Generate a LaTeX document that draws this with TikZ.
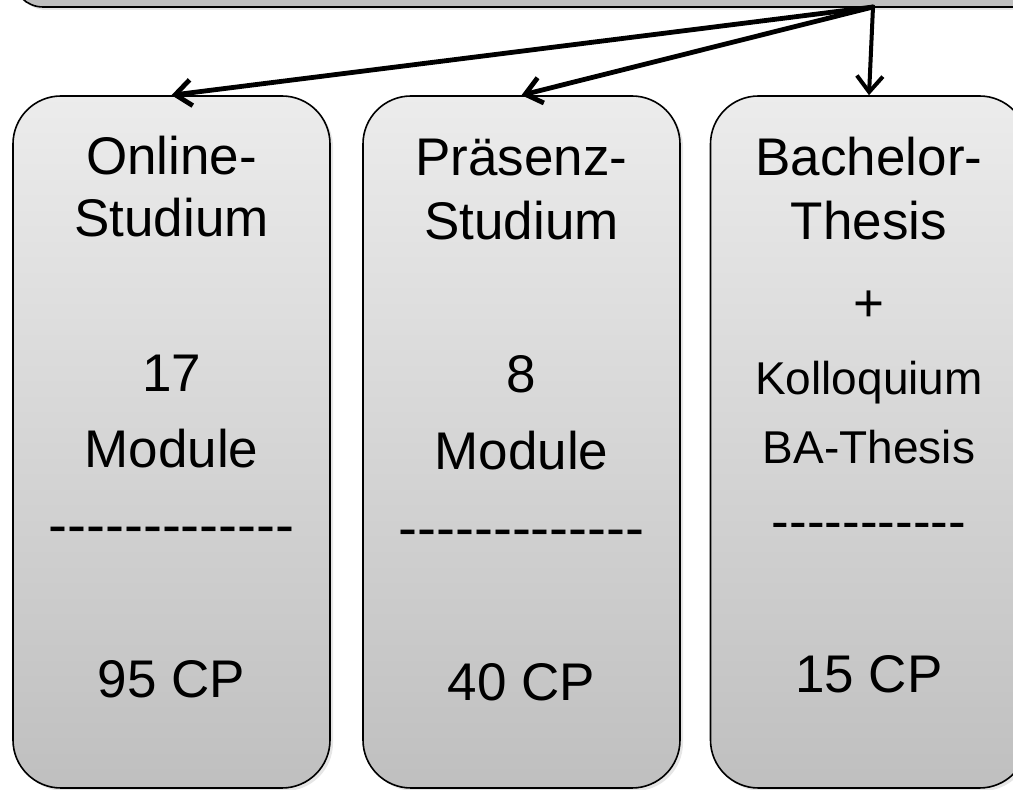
\documentclass[tikz,border=0pt]{standalone}
\usepackage{fontspec}
\setmainfont{Liberation Sans}[Ligatures=TeXOff]
\usetikzlibrary{arrows.meta,shadows}

\tikzset{
  modbox/.style={draw, line width=1.6pt, rounded corners=48pt,
    minimum width=317pt, minimum height=692pt,
    top color=gray!15, bottom color=gray!50,
    drop shadow={opacity=0.2,shadow xshift=3pt,shadow yshift=-3pt}},
  big/.style={anchor=base, inner sep=0pt, font=\fontsize{53}{62}\selectfont},
  small/.style={anchor=base, inner sep=0pt, font=\fontsize{46}{54}\selectfont},
  strich/.style={anchor=base, inner sep=0pt, font=\fontsize{57}{62}\selectfont},
  pfeil/.style={line width=4.8pt, line cap=round,
    -{Straight Barb[length=16pt,width=26pt]}}
}

\begin{document}
\begin{tikzpicture}[x=1pt,y=1pt]
\useasboundingbox (0,0) rectangle (1013,790);

% Studiengang box (cut at the top)
\begin{scope}
\clip (0,0) rectangle (1013,790);
\draw[line width=1.6pt, fill=gray!50, rounded corners=30pt,
  drop shadow={opacity=0.2,shadow xshift=3pt,shadow yshift=-3pt}]
  (13,783) rectangle (1045,900);
\coordinate (start) at (873,783);

% three parts
\node[modbox] (online)   at (171.5,348) {};
\node[modbox] (praesenz) at (521.5,348) {};
\node[modbox] (thesis)   at (869,348) {};
\end{scope}

% Online
\node[big]    (on1) at (171.5,615) {Online-};
\node[big]    (on2) at (171.5,553) {Studium};
\node[big]    (on3) at (171.5,398) {17};
\node[big]    (on4) at (171.5,322) {Module};
\node[strich] (on5) at (171.5,245) {-------------};
\node[big]    (on6) at (171.5,92)  {95 CP};

% Praesenz
\node[big]    (pr1) at (521.5,614) {Präsenz-};
\node[big]    (pr2) at (521.5,550) {Studium};
\node[big]    (pr3) at (521.5,397) {8};
\node[big]    (pr4) at (521.5,320) {Module};
\node[strich] (pr5) at (521.5,242) {-------------};
\node[big]    (pr6) at (521.5,89)  {40 CP};

% Thesis
\node[big]    (th1) at (869,614) {Bachelor-};
\node[big]    (th2) at (869,550) {Thesis};
\node[big]    (th3) at (869,468) {+};
\node[small]  (th4) at (869,395) {Kolloquium};
\node[small]  (th5) at (869,326) {BA-Thesis};
\node[big]    (th6) at (869,250) {-----------};
\node[big]    (th7) at (869,97)  {15 CP};

% arrows
\draw[pfeil] (start) -- (online.north);
\draw[pfeil] (start) -- (praesenz.north);
\draw[pfeil, line width=4pt] (start) -- (thesis.north);

\end{tikzpicture}
\end{document}
